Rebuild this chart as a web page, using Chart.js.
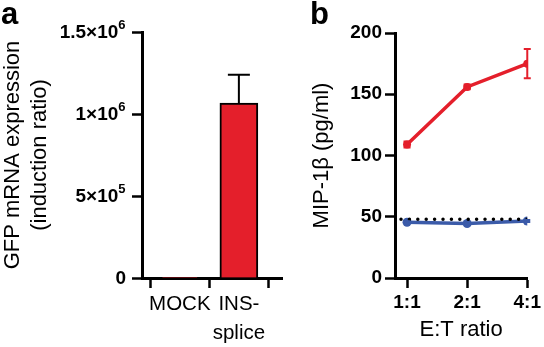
<!DOCTYPE html>
<html>
<head>
<meta charset="utf-8">
<script src="https://cdn.jsdelivr.net/npm/chart.js@4"></script>
<style>
  body { margin: 0; background: #fff; width: 544px; height: 347px; overflow: hidden; position: relative; font-family: "Liberation Sans", Arial, sans-serif; }
  .panel { position: absolute; top: 0; height: 347px; }
  #wrapA { left: 0; width: 290px; }
  #wrapB { left: 272px; width: 272px; }
  .letter { position: absolute; font-weight: bold; font-size: 31px; line-height: 1; }
</style>
</head>
<body>
<div class="panel" id="wrapA"><canvas id="chartA" width="290" height="347"></canvas></div>
<div class="panel" id="wrapB"><canvas id="chartB" width="272" height="347"></canvas></div>
<div class="letter" style="left:1px; top:-2px;">a</div>
<div class="letter" style="left:310px; top:-2px;">b</div>
<script>
// panel a
const groups = ['MOCK', ['INS-', 'splice']];
const groupPos = [0, 1];
const gfpValues = [1, 1067000];
const gfpErrors = [0, 172000];
const gfpTicks = [0, 500000, 1000000, 1500000];
const gfpTickBase = ['0', '5×10', '1×10', '1.5×10'];
const gfpTickExp = ['', '5', '6', '6'];

// panel b
const ratios = ['1:1', '2:1', '4:1'];
const ratioPos = [0, 1, 2];
const insSplice = [109, 156, 175];
const insSpliceErr = [2.5, 2, 12];
const mock = [45.5, 44.5, 46.5];
const mockErr = [0.8, 0.8, 0.8];
const backgroundX = [-0.1, 2];
const backgroundY = [48, 48];
const mipTicks = [0, 50, 100, 150, 200];

const RED = '#e41f2b';
const BLUE = '#3b5ba9';
const FONT = '"Liberation Sans", Arial, sans-serif';

Chart.defaults.font.family = FONT;
Chart.defaults.color = '#000';

const errorBars = {
  id: 'errorBars',
  afterDatasetsDraw(chart) {
    const ctx = chart.ctx;
    chart.data.datasets.forEach((ds, i) => {
      if (!ds.errors) return;
      const meta = chart.getDatasetMeta(i);
      const yScale = chart.scales[meta.yAxisID];
      ctx.save();
      ctx.strokeStyle = ds.errorColor;
      ctx.lineWidth = ds.errorWidth;
      meta.data.forEach((el, j) => {
        const err = ds.errors[j];
        if (!err) return;
        const v = ds.data[j].y;
        const top = yScale.getPixelForValue(v + err);
        const bot = ds.upOnly ? el.y : yScale.getPixelForValue(v - err);
        const w = ds.capWidth / 2;
        ctx.beginPath();
        ctx.moveTo(el.x, top); ctx.lineTo(el.x, bot);
        ctx.moveTo(el.x - w, top); ctx.lineTo(el.x + w, top);
        if (!ds.upOnly) { ctx.moveTo(el.x - w, bot); ctx.lineTo(el.x + w, bot); }
        ctx.stroke();
      });
      ctx.restore();
    });
  }
};

// y tick labels of panel a, with real superscript exponents
const powerTicks = {
  id: 'powerTicks',
  afterDraw(chart) {
    const ctx = chart.ctx;
    const y = chart.scales.y;
    const right = y.right - 16;
    ctx.save();
    ctx.fillStyle = '#000';
    ctx.textBaseline = 'middle';
    gfpTicks.forEach((v, i) => {
      const py = y.getPixelForValue(v);
      ctx.font = 'bold 13px ' + FONT;
      const ew = gfpTickExp[i] ? ctx.measureText(gfpTickExp[i]).width + 0.5 : 0;
      ctx.textAlign = 'left';
      if (gfpTickExp[i]) ctx.fillText(gfpTickExp[i], right - ew, py - 7);
      ctx.font = 'bold 19px ' + FONT;
      ctx.textAlign = 'right';
      ctx.fillText(gfpTickBase[i], right - ew, py + 1);
    });
    ctx.restore();
  }
};

const axisStyle = {
  grid: { drawOnChartArea: false, tickLength: 10, tickWidth: 2.5, tickColor: '#000' },
  border: { color: '#000', width: 3 }
};

new Chart(document.getElementById('chartA'), {
  type: 'bar',
  data: {
    datasets: [{
      data: groupPos.map((x, i) => ({ x: x, y: gfpValues[i] })),
      errors: gfpErrors,
      upOnly: true,
      errorColor: '#000',
      errorWidth: 2,
      capWidth: 22,
      backgroundColor: RED,
      borderColor: '#000',
      borderWidth: 2,
      borderSkipped: 'bottom',
      barThickness: 38
    }]
  },
  options: {
    responsive: false,
    animation: false,
    events: [],
    layout: { padding: { left: 0, right: 8, top: 32, bottom: 0 } },
    plugins: { legend: { display: false }, tooltip: { enabled: false } },
    scales: {
      x: {
        type: 'linear', min: -0.64, max: 1.73, offset: false,
        ...axisStyle,
        afterBuildTicks: s => { s.ticks = groupPos.map(v => ({ value: v })); },
        afterFit: s => { s.height = 69; },
        ticks: {
          font: { size: 20.5, lineHeight: 1.4 }, padding: 2, maxRotation: 0, autoSkip: false,
          callback: v => groups[groupPos.indexOf(v)]
        }
      },
      y: {
        min: 0, max: 1500000,
        ...axisStyle,
        afterBuildTicks: s => { s.ticks = gfpTicks.map(v => ({ value: v })); },
        afterFit: s => { s.width = 142; },
        ticks: { display: false },
        title: {
          display: true,
          text: ['GFP mRNA expression', '(induction ratio)'],
          font: { size: 22, lineHeight: 1.2 },
          padding: { top: 0, bottom: 0 }
        }
      }
    }
  },
  plugins: [errorBars, powerTicks]
});

const pts = (xs, ys) => xs.map((x, i) => ({ x: x, y: ys[i] }));

new Chart(document.getElementById('chartB'), {
  type: 'line',
  data: {
    datasets: [
      {
        data: pts(ratioPos, insSplice),
        errors: insSpliceErr, errorColor: RED, errorWidth: 2, capWidth: 7,
        borderColor: RED, backgroundColor: RED, borderWidth: 3.5,
        pointRadius: 4, pointBorderWidth: 0
      },
      {
        data: pts(backgroundX, backgroundY),
        borderColor: '#000', borderWidth: 3.5, borderDash: [0, 8.4], borderCapStyle: 'round',
        pointRadius: 0
      },
      {
        data: pts(ratioPos, mock),
        errors: mockErr, errorColor: BLUE, errorWidth: 2, capWidth: 6,
        borderColor: BLUE, backgroundColor: BLUE, borderWidth: 3.5,
        pointRadius: 4.5, pointBorderWidth: 0
      }
    ]
  },
  options: {
    responsive: false,
    animation: false,
    events: [],
    layout: { padding: { left: 0, right: 12, top: 33, bottom: 0 } },
    plugins: { legend: { display: false }, tooltip: { enabled: false } },
    scales: {
      x: {
        type: 'linear', min: -0.2, max: 2,
        ...axisStyle,
        afterBuildTicks: s => { s.ticks = ratioPos.map(v => ({ value: v })); },
        afterFit: s => { s.height = 69; },
        ticks: {
          font: { size: 19, weight: 'bold' }, padding: 3, maxRotation: 0, autoSkip: false,
          callback: v => ratios[ratioPos.indexOf(v)]
        },
        title: {
          display: true, text: 'E:T ratio',
          font: { size: 22, lineHeight: 1.2 },
          padding: { top: 0, bottom: 4 }
        }
      },
      y: {
        min: 0, max: 200,
        ...axisStyle,
        afterBuildTicks: s => { s.ticks = mipTicks.map(v => ({ value: v })); },
        afterFit: s => { s.width = 123; },
        ticks: { font: { size: 19, weight: 'bold' }, padding: 3 },
        title: {
          display: true, text: 'MIP-1β (pg/ml)',
          font: { size: 22, lineHeight: 1.2 },
          padding: { top: 37, bottom: 0 }
        }
      }
    }
  },
  plugins: [errorBars]
});
</script>
</body>
</html>
